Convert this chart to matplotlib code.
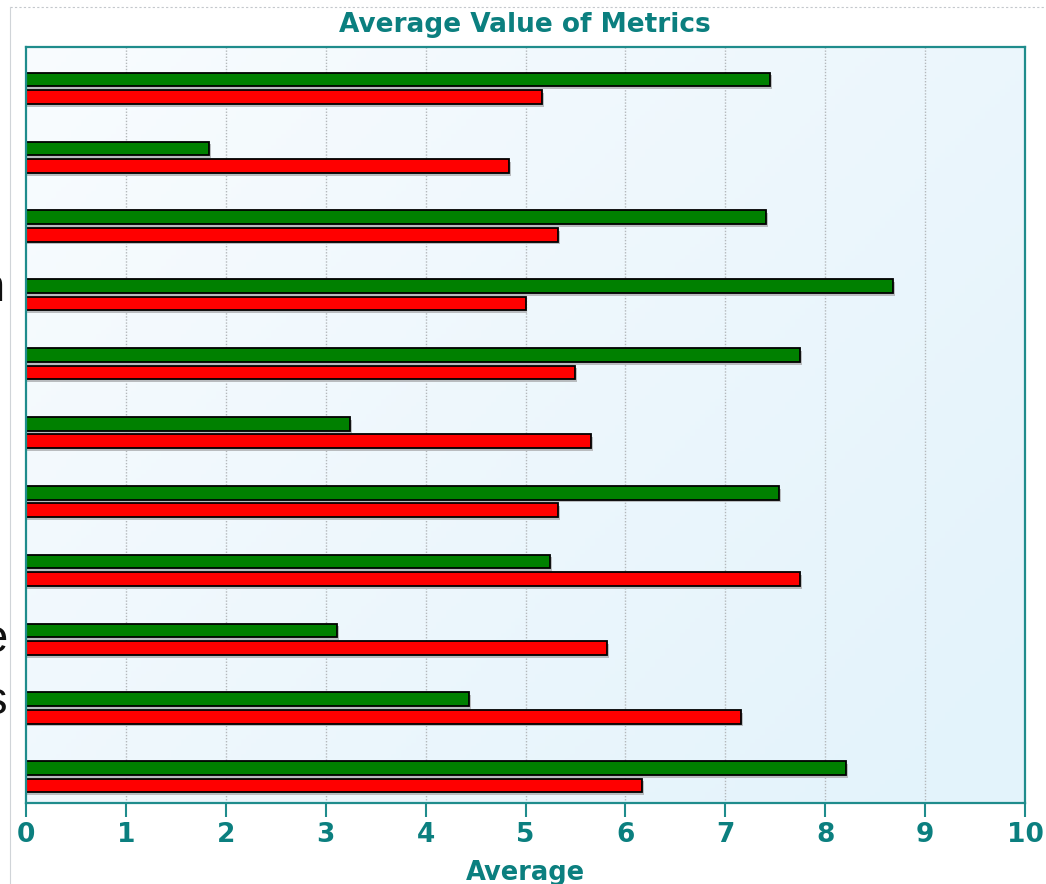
import numpy as np
import matplotlib.pyplot as plt
from matplotlib.lines import Line2D

# averages per metric row (top to bottom)
green_vals = [7.45, 1.83, 7.41, 8.68, 7.75, 3.24, 7.54, 5.25, 3.11, 4.43, 8.21]
red_vals = [5.17, 4.83, 5.33, 5.00, 5.50, 5.66, 5.33, 7.75, 5.82, 7.16, 6.17]
x_ticks = [0, 1, 2, 3, 4, 5, 6, 7, 8, 9, 10]

teal = '#0b7f7f'
spine_teal = '#1f8c8c'

fig = plt.figure(figsize=(10.46, 8.84), dpi=100)
ax = fig.add_axes([26 / 1046, 1 - 803 / 884, 999 / 1046, 756 / 884])

# soft diagonal background gradient
gx, gy = np.meshgrid(np.linspace(0, 1, 200), np.linspace(0, 1, 200))
g = np.clip(0.65 * gx + 0.45 * gy, 0, 1)
c0 = np.array([0.975, 0.988, 0.998])
c1 = np.array([0.894, 0.953, 0.985])
img = c0[None, None, :] * (1 - g[..., None]) + c1[None, None, :] * g[..., None]
ax.imshow(img, extent=[0, 1, 0, 1], transform=ax.transAxes, aspect='auto', zorder=0)

y = np.arange(len(green_vals))
h = 0.2
off = 0.127

# faint shadows under each bar
ax.barh(y - off + 0.04, np.array(green_vals) + 0.02, height=h, color='#b9bcbf', zorder=1)
ax.barh(y + off + 0.04, np.array(red_vals) + 0.02, height=h, color='#b9bcbf', zorder=1)

ax.barh(y - off, green_vals, height=h, color='#008000', edgecolor='black', linewidth=1.3, zorder=2)
ax.barh(y + off, red_vals, height=h, color='#ff0000', edgecolor='black', linewidth=1.3, zorder=2)

ax.set_xlim(0, 10)
ax.set_ylim(10.38, -0.6)
ax.set_yticks([])
ax.set_xticks(x_ticks)
ax.set_xticklabels([str(t) for t in x_ticks], fontsize=19, fontweight='bold', color=teal)
ax.tick_params(axis='x', length=10, width=1.5, color=spine_teal, pad=4)

for t in x_ticks[1:-1]:
    ax.axvline(t, color='#b4b8bb', linestyle=(0, (1, 1.2)), linewidth=1, zorder=0.5)

for s in ax.spines.values():
    s.set_color(spine_teal)
    s.set_linewidth(1.6)

ax.set_xlabel('Average', fontsize=18.5, fontweight='bold', color=teal, labelpad=8)
fig.text(525 / 1046, 1 - 25 / 884, 'Average Value of Metrics', ha='center', va='center',
         fontsize=19, fontweight='bold', color=teal)

# page frame lines
fig.add_artist(Line2D([10 / 1046, 1], [1 - 7 / 884, 1 - 7 / 884], transform=fig.transFigure,
                      color='#c4c8cc', linewidth=0.8, linestyle=(0, (2, 2))))
fig.add_artist(Line2D([10 / 1046, 10 / 1046], [0, 1 - 7 / 884], transform=fig.transFigure,
                      color='#d0d4d8', linewidth=0.8))

# row label endings cut off at the left edge
for ch, px, py in [('n', 5, 289), ('e', 8, 640), ('s', 7, 702)]:
    fig.text(px / 1046, 1 - py / 884, ch, ha='right', va='center', fontsize=34,
             family='Liberation Sans', color='#111111')

fig.savefig('out.png', dpi=100)
